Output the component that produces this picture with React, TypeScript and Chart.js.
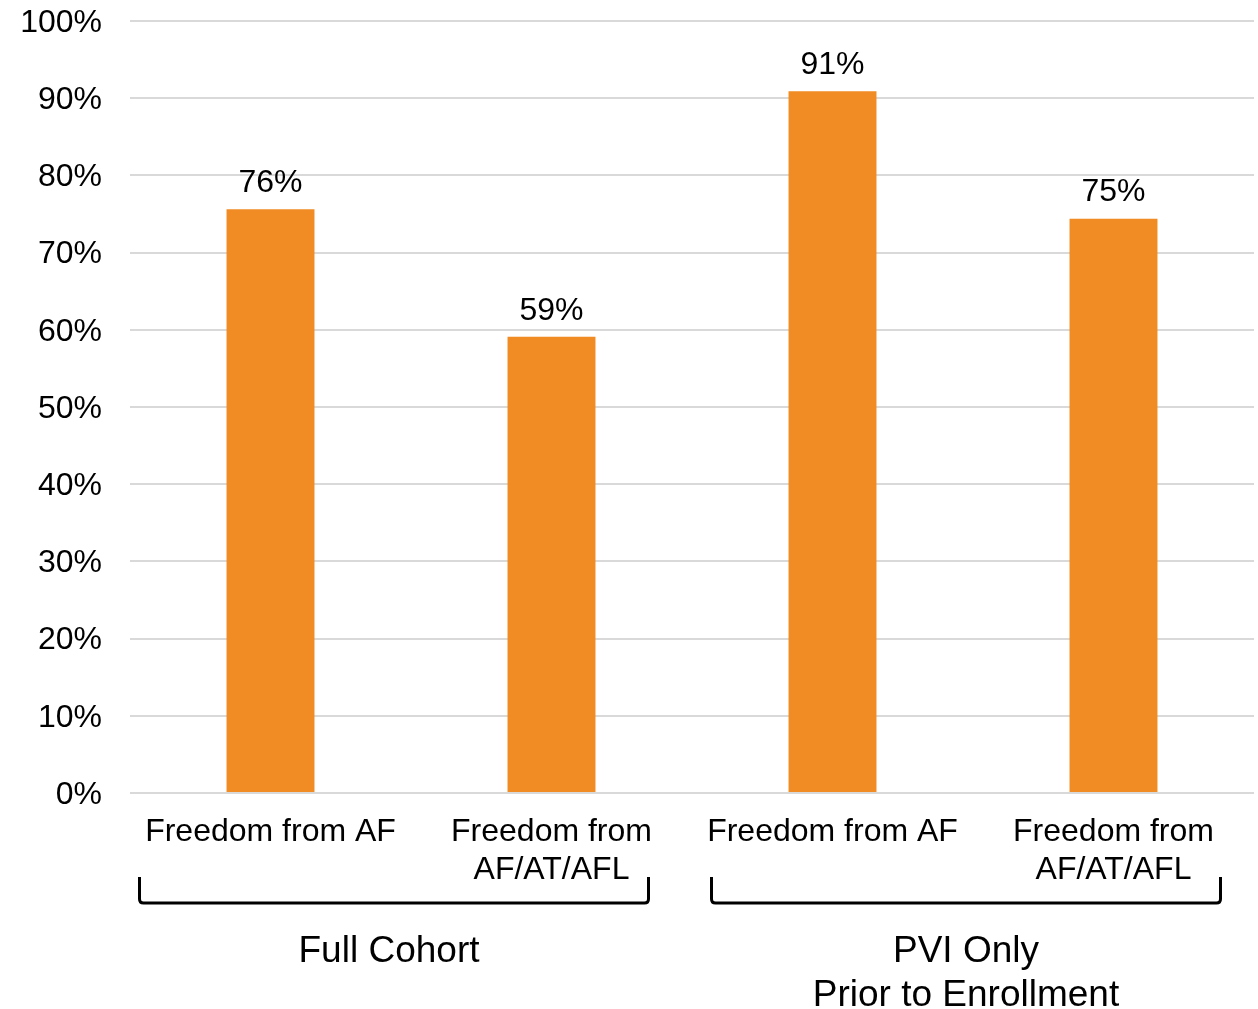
import React, { useEffect, useRef } from "react";
import { Chart, registerables } from "chart.js";

Chart.register(...registerables);

const categories: string[][] = [
  ["Freedom from AF"],
  ["Freedom from", "AF/AT/AFL"],
  ["Freedom from AF"],
  ["Freedom from", "AF/AT/AFL"],
];
const values: number[] = [75.6, 59.1, 90.9, 74.4];
const valueLabels: string[] = ["76%", "59%", "91%", "75%"];
const groupLabels: string[][] = [["Full Cohort"], ["PVI Only", "Prior to Enrollment"]];
const groupFrom: number[] = [0, 2];
const groupTo: number[] = [1, 3];
const yTicks: number[] = [0, 10, 20, 30, 40, 50, 60, 70, 80, 90, 100];

// bracket styling (pixel insets relative to first/last bar centre of each group)
const bracketStyle = [
  { left: 131, right: 97, labelShift: -5 },
  { left: 121, right: 107, labelShift: 0 },
];

const FONT = '"Liberation Sans", Arial, sans-serif';
const ORANGE = "#F08C23";

const overlayPlugin = {
  id: "overlay",
  afterDatasetsDraw(chart: any) {
    const ctx = chart.ctx;
    const meta = chart.getDatasetMeta(0);
    ctx.save();
    ctx.fillStyle = "#000";
    ctx.font = `32px ${FONT}`;
    ctx.textAlign = "center";
    ctx.textBaseline = "middle";
    meta.data.forEach((bar: any, i: number) => {
      ctx.fillText(valueLabels[i], bar.x, bar.y - 26);
    });
    const xs = chart.scales.x;
    groupLabels.forEach((label, gi) => {
      const st = bracketStyle[gi];
      const left = xs.getPixelForValue(groupFrom[gi]) - st.left;
      const right = xs.getPixelForValue(groupTo[gi]) + st.right;
      const top = 877;
      const bottom = 903;
      const r = 4;
      ctx.strokeStyle = "#000";
      ctx.lineWidth = 3;
      ctx.beginPath();
      ctx.moveTo(left, top);
      ctx.lineTo(left, bottom - r);
      ctx.quadraticCurveTo(left, bottom, left + r, bottom);
      ctx.lineTo(right - r, bottom);
      ctx.quadraticCurveTo(right, bottom, right, bottom - r);
      ctx.lineTo(right, top);
      ctx.stroke();
      const cx = (left + right) / 2 + st.labelShift;
      ctx.font = `37px ${FONT}`;
      label.forEach((line, j) => {
        ctx.fillText(line, cx, 952 + j * 44);
      });
    });
    ctx.restore();
  },
};

export default function App() {
  const ref = useRef<HTMLCanvasElement | null>(null);
  useEffect(() => {
    if (!ref.current) return;
    const chart = new Chart(ref.current, {
      type: "bar",
      data: {
        labels: categories,
        datasets: [
          {
            data: values,
            backgroundColor: ORANGE,
            borderWidth: 0,
            categoryPercentage: 1,
            barPercentage: 0.313,
          },
        ],
      },
      options: {
        animation: false,
        responsive: true,
        maintainAspectRatio: false,
        layout: { padding: { top: 21, right: 4, left: 0, bottom: 0 } },
        plugins: { legend: { display: false }, tooltip: { enabled: false } },
        scales: {
          x: {
            grid: { display: false, drawTicks: false },
            border: { display: false },
            ticks: {
              color: "#000",
              font: { family: FONT, size: 32, lineHeight: 1.16 },
              padding: 21,
              maxRotation: 0,
              autoSkip: false,
            },
            afterFit(scale: any) {
              scale.height = 216;
              scale.paddingLeft = 0;
              scale.paddingRight = 0;
            },
          },
          y: {
            min: 0,
            max: 100,
            afterBuildTicks(scale: any) {
              scale.ticks = yTicks.map((v) => ({ value: v }));
            },
            grid: { color: "#d9d9d9", lineWidth: 2, drawTicks: false },
            border: { display: false },
            ticks: {
              color: "#000",
              font: { family: FONT, size: 32 },
              padding: 28,
              labelOffset: 2,
              callback: (v: any) => `${v}%`,
            },
            afterFit(scale: any) {
              scale.width = 130;
              scale.paddingTop = 0;
              scale.paddingBottom = 0;
            },
          },
        },
      },
      plugins: [overlayPlugin],
    });
    return () => chart.destroy();
  }, []);
  return (
    <div style={{ position: "absolute", left: 0, top: 0, width: 1258, height: 1009 }}>
      <canvas ref={ref} />
    </div>
  );
}
